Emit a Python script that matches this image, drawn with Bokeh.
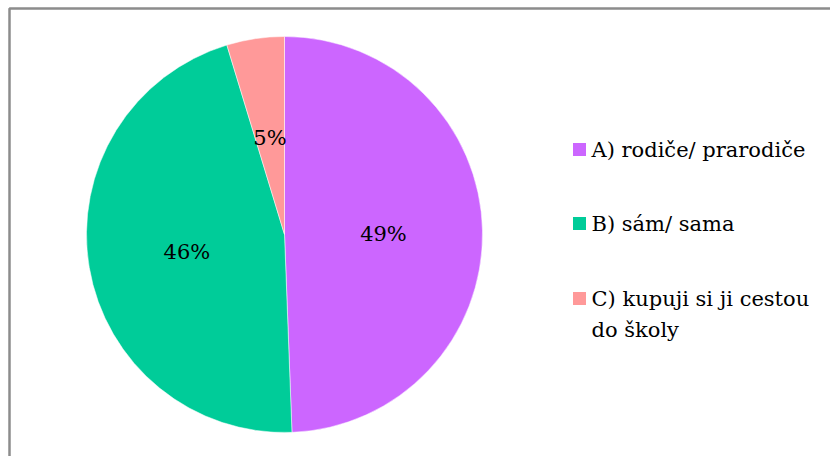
import math
from bokeh.plotting import figure
from bokeh.models import Range1d, ColumnDataSource
from bokeh.core.properties import value
from bokeh.embed import file_html
from bokeh.resources import INLINE

categories = ["A) rodiče/ prarodiče", "B) sám/ sama", "C) kupuji si ji cestou\ndo školy"]
shares = [49.4, 45.9, 4.7]
colors = ["#CC66FF", "#00CC99", "#FF9999"]

W, H = 830, 456
p = figure(width=W, height=H, output_backend="svg", toolbar_location=None,
           x_range=Range1d(0, W), y_range=Range1d(0, H), min_border=0)
p.axis.visible = False
p.grid.visible = False
p.outline_line_color = None
p.background_fill_color = "white"
p.border_fill_color = "white"

FONT = value("DejaVu Serif")

# chart border
p.quad(left=[9], right=[W + 20], top=[H - 8], bottom=[-20], fill_alpha=0,
       line_color="#8c8c8c", line_width=2.5)

cx, cy, R = 284, H - 234, 198
total = sum(shares)
starts, ends, lx, ly, labels = [], [], [], [], []
a = math.pi / 2
for s in shares:
    frac = s / total
    e = a - 2 * math.pi * frac
    starts.append(a)
    ends.append(e)
    mid = (a + e) / 2
    lx.append(cx + 0.5 * R * math.cos(mid))
    ly.append(cy + 0.5 * R * math.sin(mid) - 1.5)
    labels.append(f"{round(s)}%")
    a = e

src = ColumnDataSource(dict(start=starts, end=ends, color=colors))
p.wedge(x=cx, y=cy, radius=R, start_angle="start", end_angle="end",
        direction="clock", fill_color="color", line_color="white", line_width=0.5,
        source=src)

p.text(x=lx, y=ly, text=labels, text_font=FONT, text_font_size="21px",
       text_align="center", text_baseline="middle", text_color="black")

# legend
leg_y = [149, 223, 298]
p.rect(x=[579] * 3, y=[H - v for v in leg_y], width=13, height=13,
       fill_color=colors, line_color=None)
tx, ty = [], []
for cat, yy in zip(categories, leg_y):
    for i, line in enumerate(cat.split("\n")):
        tx.append(line)
        ty.append(H - (yy + 31 * i))
p.text(x=[591] * len(tx), y=ty, text=tx, text_font=FONT, text_font_size="21px",
       text_align="left", text_baseline="middle", text_color="black")

open("out.html", "w").write(file_html(p, INLINE))
